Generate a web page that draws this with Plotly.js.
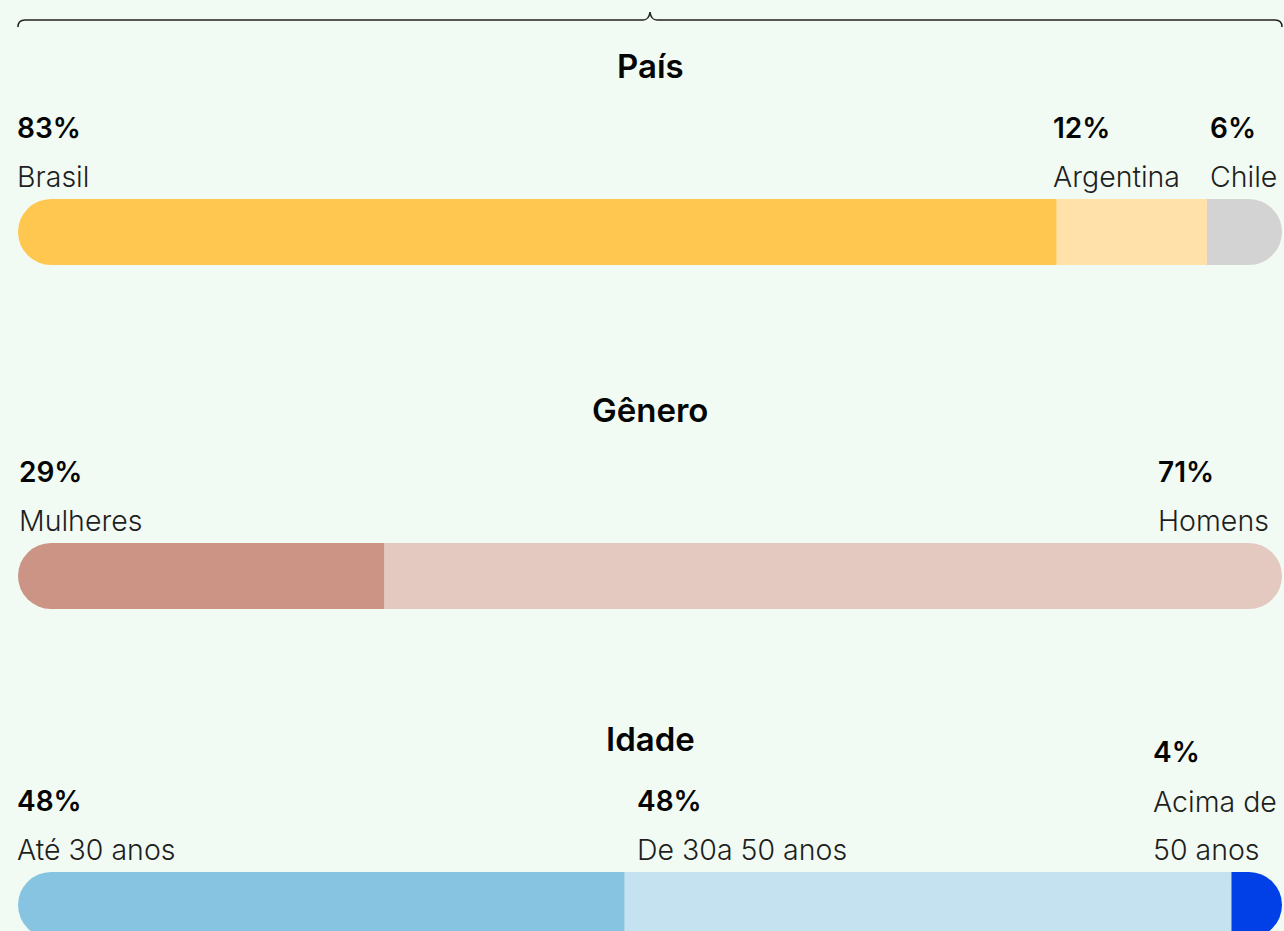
<!DOCTYPE html>
<html>
<head>
<meta charset="utf-8">
<script src="https://cdn.plot.ly/plotly-3.0.1.min.js"></script>
<style>
  html, body { margin: 0; padding: 0; background: #F1FBF3; }
  #chart { width: 1284px; height: 931px; }
</style>
</head>
<body>
<div id="chart"></div>
<script>
// ---------- DATA ----------
const groupTitles = ["País", "Gênero", "Idade"];

const paisCategories = ["Brasil", "Argentina", "Chile"];
const paisValues = [83, 12, 6];

const generoCategories = ["Mulheres", "Homens"];
const generoValues = [29, 71];

const idadeCategories = ["Até 30 anos", "De 30a 50 anos", "Acima de<br>50 anos"];
const idadeValues = [48, 48, 4];

const paisColors = ["#FFC750", "#FFE1A9", "#D3D3D3"];
const generoColors = ["#CC9484", "#E4C9C0"];
const idadeColors = ["#87C4E1", "#C4E2EF", "#0040E6"];

// ---------- LAYOUT CONSTANTS (pixels) ----------
const W = 1284, H = 931, ML = 18, MR = 2;
const PW = W - ML - MR;
const BAR_H = 66;
const rows = [
  { cats: paisCategories, vals: paisValues, colors: paisColors, barTop: 199,
    titleY: 66, labelX: [15, 1051, 1208], pctY: [128, 128, 128], lineY: [[176], [176], [176]] },
  { cats: generoCategories, vals: generoValues, colors: generoColors, barTop: 543,
    titleY: 410, labelX: [17, 1156], pctY: [472, 472], lineY: [[520], [520]] },
  { cats: idadeCategories, vals: idadeValues, colors: idadeColors, barTop: 872,
    titleY: 739, labelX: [15, 635, 1151], pctY: [801, 801, 752], lineY: [[849], [849], [801, 849]] }
];

const py = p => 1 - p / H;
const px = p => (p - ML) / PW;

const FONT_B = "Inter, 'Noto Sans', sans-serif";
const FONT_L = "'Inter Light', Inter, 'Noto Sans', sans-serif";
const traces = [];
const annotations = [];
const layout = {
  width: W, height: H,
  margin: { l: ML, r: MR, t: 0, b: 0, pad: 0 },
  paper_bgcolor: "#F1FBF3",
  plot_bgcolor: "rgba(0,0,0,0)",
  barmode: "relative",
  barcornerradius: "50%",
  showlegend: false,
  hovermode: false,
  annotations: annotations,
  shapes: []
};

rows.forEach((row, r) => {
  const xa = r === 0 ? "x" : "x" + (r + 1);
  const ya = r === 0 ? "y" : "y" + (r + 1);
  const xKey = r === 0 ? "xaxis" : "xaxis" + (r + 1);
  const yKey = r === 0 ? "yaxis" : "yaxis" + (r + 1);
  const total = row.vals.reduce((a, b) => a + b, 0);

  const top = row.barTop, bottom = row.barTop + BAR_H;
  let domain, range;
  if (bottom > H) {
    const visible = H - top;
    domain = [0, py(top)];
    range = [0.5 - visible / BAR_H, 0.5];
  } else {
    domain = [py(bottom), py(top)];
    range = [-0.5, 0.5];
  }
  // first segment is drawn on the negative side so both outer ends are the stack tips
  layout[xKey] = { range: [-row.vals[0], total - row.vals[0]], domain: [0, 1], anchor: ya, visible: false, fixedrange: true };
  layout[yKey] = { range: range, domain: domain, anchor: xa, visible: false, fixedrange: true };

  row.vals.forEach((v, i) => {
    traces.push({
      type: "bar", orientation: "h", y: [0], width: 1,
      x: [i === 0 ? -v : v],
      xaxis: xa, yaxis: ya, hoverinfo: "skip",
      marker: { color: row.colors[i], line: { width: 0 } }
    });

    const ax = px(row.labelX[i]);
    annotations.push({
      xref: "paper", yref: "paper", x: ax, y: py(row.pctY[i]),
      xanchor: "left", yanchor: "middle", showarrow: false,
      text: v + "%", font: { family: FONT_B, size: 28, color: "#050505", weight: 600 }
    });
    const lines = row.cats[i].split("<br>");
    lines.forEach((ln, k) => {
      annotations.push({
        xref: "paper", yref: "paper", x: ax, y: py(row.lineY[i][k]),
        xanchor: "left", yanchor: "middle", showarrow: false,
        text: ln, font: { family: FONT_L, size: 28.5, color: "#1E1E1E", weight: 300 }
      });
    });
  });

  annotations.push({
    xref: "paper", yref: "paper", x: px(650), y: py(row.titleY),
    xanchor: "center", yanchor: "middle", showarrow: false,
    text: groupTitles[r], font: { family: FONT_B, size: 33, color: "#050505", weight: 600 }
  });
});

// decorative brace at top
const bx = p => px(p).toFixed(5), by = p => py(p).toFixed(5);
const bracePath =
  "M " + bx(18) + "," + by(27) +
  " Q " + bx(18) + "," + by(20) + " " + bx(25) + "," + by(20) +
  " L " + bx(643) + "," + by(20) +
  " Q " + bx(649) + "," + by(20) + " " + bx(650) + "," + by(12) +
  " Q " + bx(651) + "," + by(20) + " " + bx(657) + "," + by(20) +
  " L " + bx(1275) + "," + by(20) +
  " Q " + bx(1282) + "," + by(20) + " " + bx(1282) + "," + by(27);
layout.shapes.push({
  type: "path", xref: "paper", yref: "paper", path: bracePath,
  line: { color: "#222222", width: 1.5 }
});

Plotly.newPlot("chart", traces, layout, { displayModeBar: false, staticPlot: true });
</script>
</body>
</html>
